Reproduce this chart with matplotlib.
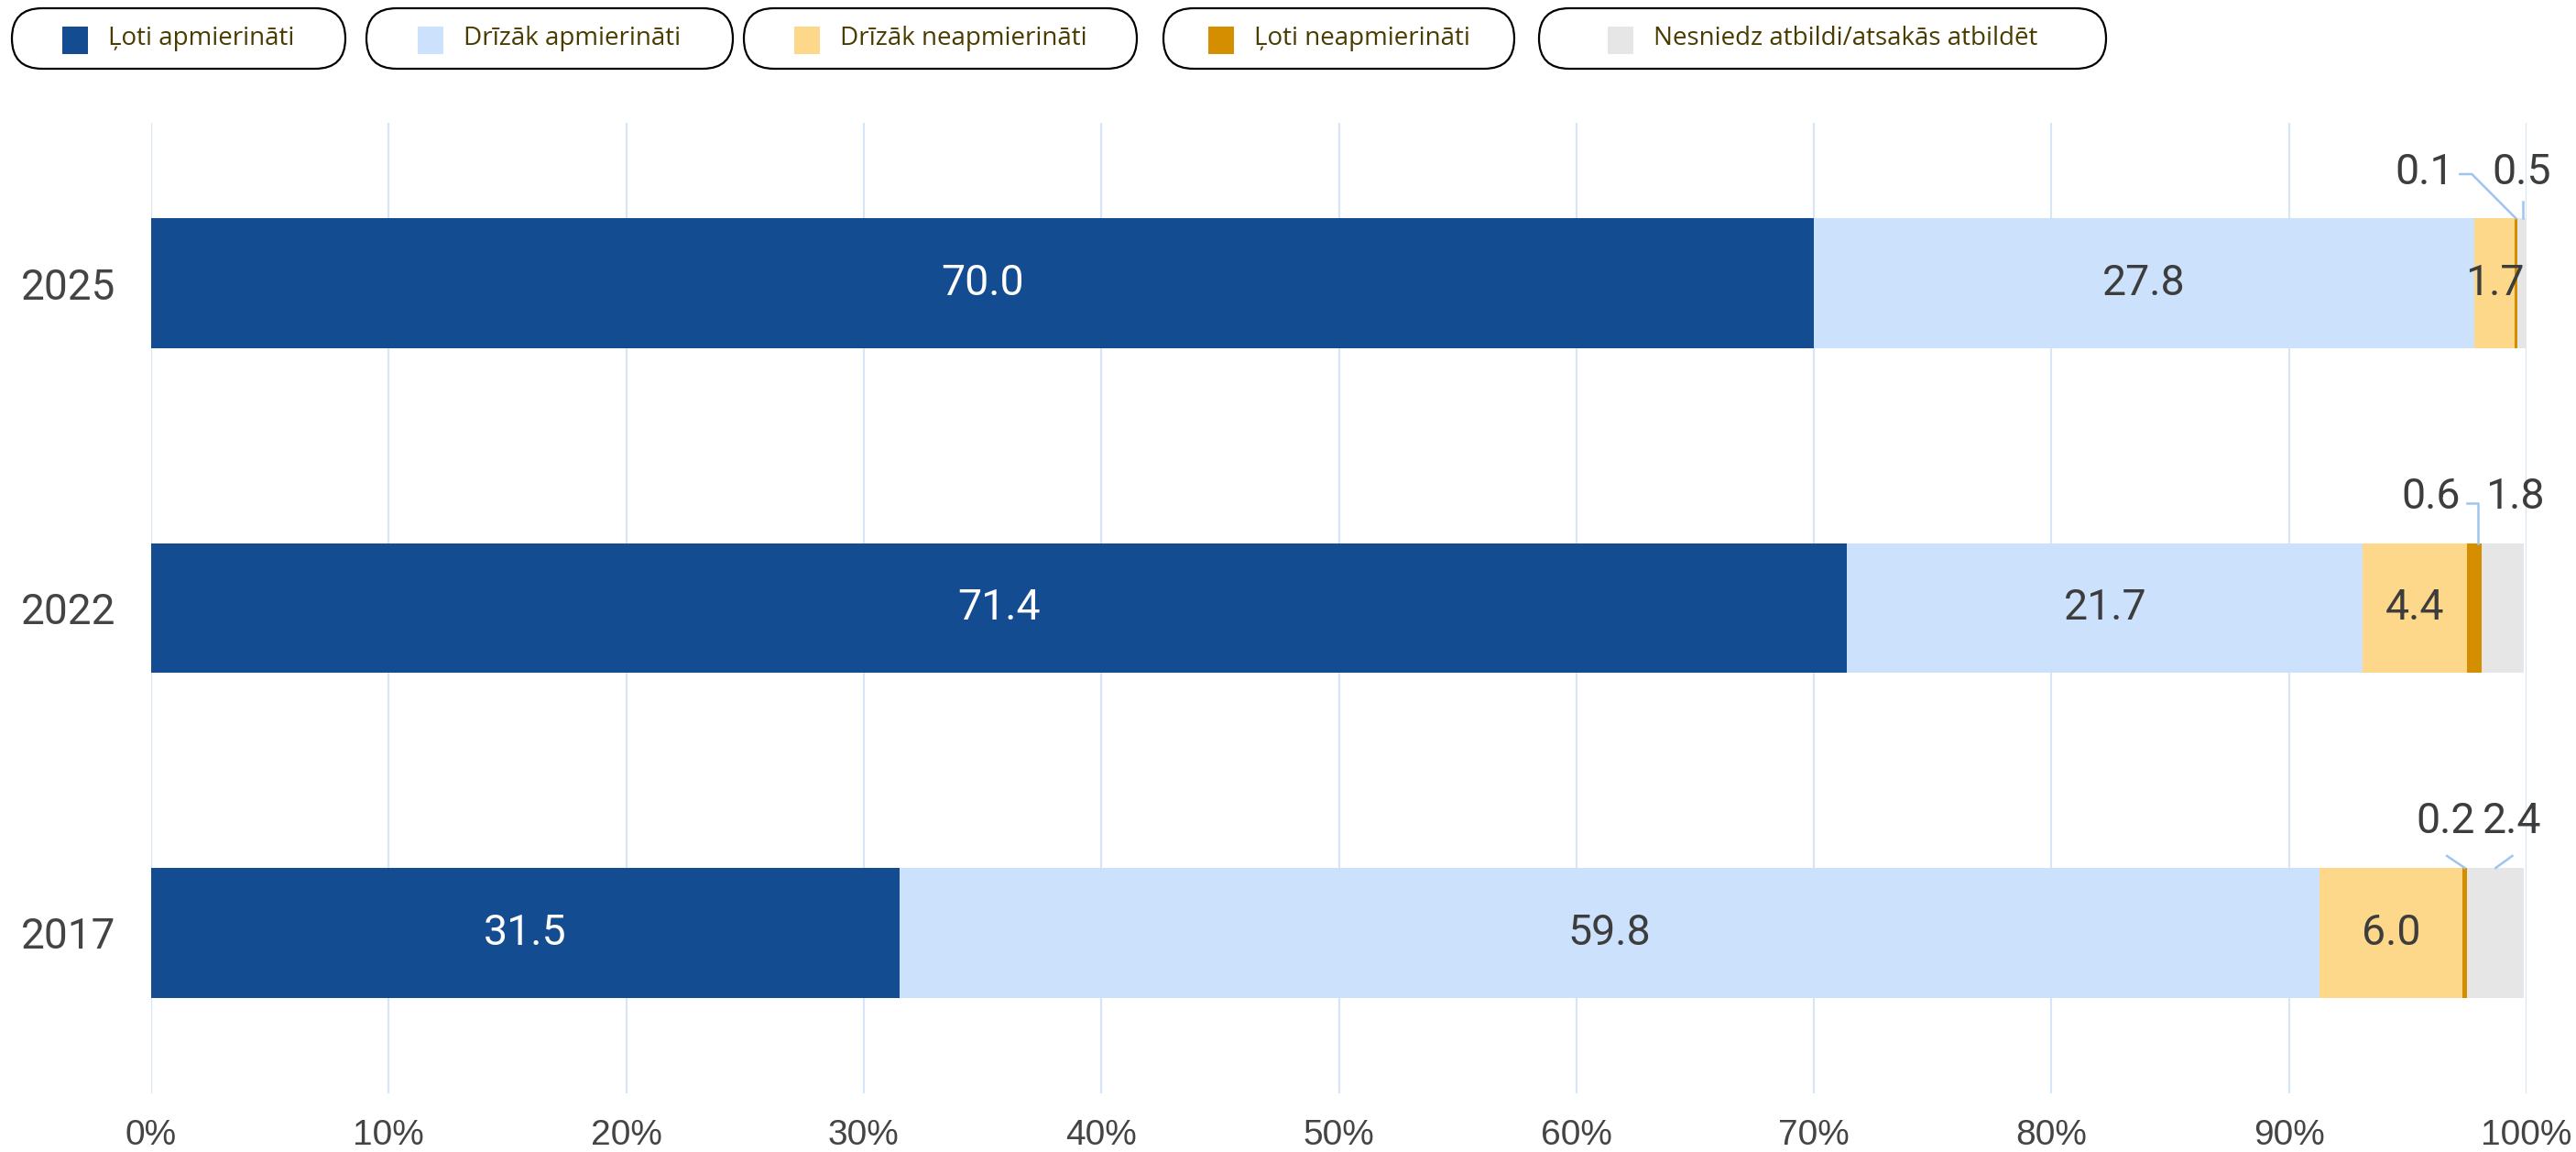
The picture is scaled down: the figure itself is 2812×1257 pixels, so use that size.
import matplotlib
matplotlib.use("Agg")
import matplotlib.pyplot as plt
from matplotlib.patches import FancyBboxPatch, Rectangle

# ---- data -------------------------------------------------------------
years = ["2025", "2022", "2017"]
series_names = [
    "Ļoti apmierināti",
    "Drīzāk apmierināti",
    "Drīzāk neapmierināti",
    "Ļoti neapmierināti",
    "Nesniedz atbildi/atsakās atbildēt",
]
very_satisfied = [70.0, 71.4, 31.5]
rather_satisfied = [27.8, 21.7, 59.8]
rather_dissatisfied = [1.7, 4.4, 6.0]
very_dissatisfied = [0.1, 0.6, 0.2]
no_answer = [0.5, 1.8, 2.4]
x_ticks = [0, 10, 20, 30, 40, 50, 60, 70, 80, 90, 100]
x_tick_labels = [f"{t}%" for t in x_ticks]

series = [very_satisfied, rather_satisfied, rather_dissatisfied,
          very_dissatisfied, no_answer]
colors = ["#144c91", "#cce1fb", "#fdd78a", "#d48e00", "#e6e6e6"]
label_colors = ["white", "#3d3d3d", "#3d3d3d", "#3d3d3d", "#3d3d3d"]

W, H = 2812, 1257
fig = plt.figure(figsize=(W / 100, H / 100), dpi=100)
fig.patch.set_facecolor("white")

ax = fig.add_axes([165 / W, 64 / H, (2758 - 165) / W, (1193 - 134) / H])
ax.set_xlim(0, 100)
ax.set_ylim(-0.494, 2.494)
for s in ax.spines.values():
    s.set_visible(False)

ypos = [2, 1, 0]   # 2025 on top
bar_h = 0.4

# gridlines
for t in x_ticks:
    ax.axvline(t, color="#d6e6f7", lw=1.6, zorder=0)

lefts = [0.0] * len(years)
centers = []
for si, vals in enumerate(series):
    ax.barh(ypos, vals, left=lefts, height=bar_h, color=colors[si],
            edgecolor="none", zorder=2)
    centers.append([l + v / 2 for l, v in zip(lefts, vals)])
    lefts = [l + v for l, v in zip(lefts, vals)]

value_font = dict(family=["Roboto", "DejaVu Sans"], fontsize=33.5)

# labels inside the bars for the three larger segments
for si in range(3):
    for yi, y in enumerate(ypos):
        ax.text(centers[si][yi], y, f"{series[si][yi]:.1f}", ha="center",
                va="center", color=label_colors[si], zorder=4, **value_font)

# callouts above the bars for the thin segments:
# (series, row, text dx, text ha, connector points relative to segment centre)
line_c = "#9ec5f0"
callouts = [
    (3, 0, -2.6, "right", [(-2.35, 0.136), (-1.85, 0.136), (0, 0)]),
    (4, 0, -0.05, "center", [(0, 0.051), (0, 0)]),
    (3, 1, -0.6, "right", [(-0.3, 0.123), (0.15, 0.123), (0.15, 0)]),
    (4, 1, 0.5, "center", None),
    (3, 2, -0.8, "center", [(-0.75, 0.037), (0, 0)]),
    (4, 2, 0.7, "center", [(0.7, 0.037), (0, 0)]),
]
for si, yi, dx, ha, pts in callouts:
    cx = centers[si][yi]
    top = ypos[yi] + bar_h / 2
    ax.text(cx + dx, top + 0.143, f"{series[si][yi]:.1f}", ha=ha,
            va="center", color="#3d3d3d", zorder=4, clip_on=False,
            **value_font)
    if pts:
        ax.plot([cx + p[0] for p in pts], [top + p[1] for p in pts],
                color=line_c, lw=1.8, zorder=3, clip_on=False)

# axes labels
ax.set_xticks(x_ticks)
ax.set_xticklabels(x_tick_labels, family=["Liberation Sans", "DejaVu Sans"],
                   fontsize=28, color="#444444")
ax.tick_params(axis="x", length=0, pad=20)
ax.set_yticks(ypos)
ax.set_yticklabels(years, family=["Roboto", "DejaVu Sans"], fontsize=33,
                   color="#444444")
ax.tick_params(axis="y", length=0, pad=28)

# ---- legend as rounded pills, drawn in a pixel-space overlay -------------
lax = fig.add_axes([0, 0, 1, 1], zorder=5)
lax.set_xlim(0, W)
lax.set_ylim(H, 0)
lax.axis("off")
lax.patch.set_alpha(0)

boxes = [(13, 377), (400, 800), (812, 1241), (1270, 1653), (1680, 2299)]
box_top, box_bot = 9, 75
renderer = fig.canvas.get_renderer()
for (x0, x1), name, col in zip(boxes, series_names, colors):
    hgt = box_bot - box_top
    pill = FancyBboxPatch((x0, box_top), x1 - x0, hgt,
                          boxstyle=f"round,pad=0,rounding_size={hgt / 2}",
                          facecolor="white", edgecolor="black", lw=1.6)
    lax.add_patch(pill)
    t = lax.text(0, (box_top + box_bot) / 2, name,
                 family=["Open Sans", "DejaVu Sans"], fontsize=20,
                 color="#4a3b00", va="center", ha="left")
    tw = t.get_window_extent(renderer).width
    sw, gap = 28, 22
    start = (x0 + x1) / 2 - (sw + gap + tw) / 2
    t.set_x(start + sw + gap)
    lax.add_patch(Rectangle((start, 29), sw, 30, facecolor=col,
                            edgecolor="none"))

fig.savefig("out.png", dpi=100, facecolor="white")
